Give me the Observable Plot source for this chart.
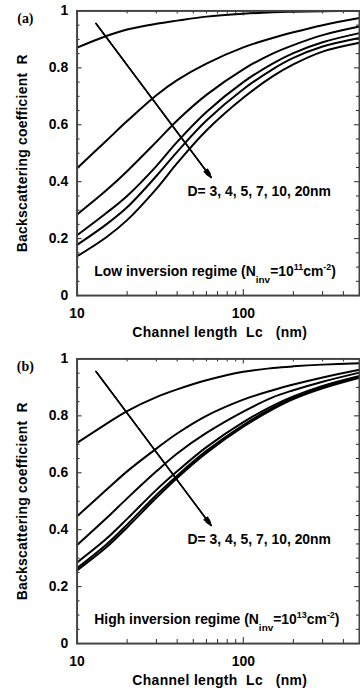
<!DOCTYPE html>
<html><head><meta charset="utf-8">
<script src="https://cdn.jsdelivr.net/npm/d3@7"></script>
<script src="https://cdn.jsdelivr.net/npm/@observablehq/plot@0.6"></script>
<style>
body{margin:0;background:#fff;overflow:hidden;width:360px;height:694px;}
#chart svg{display:block;}
</style></head><body><div id="chart"></div>
<script>
// Channel length Lc (nm) sample points
const lengths = [10, 15, 20, 30, 40, 60, 100, 150, 200, 300, 500];
const diameters = ["3", "4", "5", "7", "10", "20"];

// (a) Low inversion regime, backscattering coefficient R
const lowD3  = [0.871, 0.912, 0.935, 0.955, 0.966, 0.980, 0.990, 0.995, 0.997, 0.999, 1.000];
const lowD4  = [0.447, 0.544, 0.613, 0.704, 0.757, 0.815, 0.872, 0.905, 0.925, 0.950, 0.975];
const lowD5  = [0.285, 0.370, 0.437, 0.540, 0.615, 0.705, 0.795, 0.850, 0.880, 0.915, 0.945];
const lowD7  = [0.212, 0.290, 0.350, 0.455, 0.540, 0.645, 0.750, 0.815, 0.852, 0.890, 0.922];
const lowD10 = [0.178, 0.250, 0.310, 0.420, 0.505, 0.615, 0.725, 0.795, 0.835, 0.875, 0.905];
const lowD20 = [0.138, 0.205, 0.265, 0.375, 0.465, 0.580, 0.695, 0.770, 0.812, 0.857, 0.888];

// (b) High inversion regime
const highD3  = [0.705, 0.772, 0.817, 0.866, 0.893, 0.925, 0.955, 0.968, 0.974, 0.980, 0.985];
const highD4  = [0.447, 0.540, 0.605, 0.685, 0.738, 0.800, 0.857, 0.890, 0.910, 0.935, 0.962];
const highD5  = [0.346, 0.440, 0.510, 0.605, 0.668, 0.740, 0.815, 0.865, 0.890, 0.920, 0.952];
const highD7  = [0.285, 0.368, 0.438, 0.540, 0.605, 0.690, 0.778, 0.835, 0.868, 0.905, 0.940];
const highD10 = [0.265, 0.348, 0.418, 0.522, 0.590, 0.677, 0.768, 0.828, 0.863, 0.900, 0.937];
const highD20 = [0.257, 0.338, 0.408, 0.512, 0.582, 0.670, 0.762, 0.823, 0.859, 0.897, 0.934];

// Ticks
const yTickLabels = [0, 0.2, 0.4, 0.6, 0.8, 1];
const yMinorTicks = [0.05, 0.1, 0.15, 0.25, 0.3, 0.35, 0.45, 0.5, 0.55, 0.65, 0.7, 0.75, 0.85, 0.9, 0.95];
const xTicks = [20, 30, 40, 50, 60, 70, 80, 90, 200, 300, 400];
const xMajorTicks = [10, 100];
const xTickLabels = [10, 100];

const dLabel = "D= 3, 4, 5, 7, 10, 20nm";
const yTitle = "Backscattering coefficient  R";
const xTitle = "Channel length  Lc   (nm)";

function rows(series) {
  const out = [];
  series.forEach((vals, k) => vals.forEach((r, i) => out.push({D: diameters[k], L: lengths[i], R: r})));
  return out;
}

const W = 362, H = 350, mL = 77, mR = 1, mT = 10.5, mB = 53.3;
const fw = W - mL - mR, fh = H - mT - mB;

function panel(tag, series, regimeWord, exponent) {
  const regimeText = regimeWord + " inversion regime (N|inv|=10|" + exponent + "|cm|-2|)";
  const svg = Plot.plot({
    width: W, height: H,
    marginLeft: mL, marginRight: mR, marginTop: mT, marginBottom: mB,
    style: {fontFamily: "'Liberation Sans', Arial, sans-serif", fontSize: "14px", fontWeight: "bold", background: "#fff", color: "#000", overflow: "visible"},
    x: {type: "log", domain: [10, 500]},
    y: {domain: [0, 1]},
    marks: [
      Plot.line(rows(series), {x: "L", y: "R", z: "D", stroke: "#000", strokeWidth: 2, curve: "catmull-rom"}),
      // inward ticks
      Plot.tickX(xTicks, {x: d => d, insetTop: fh - 4, stroke: "#222"}),
      Plot.tickX(xTicks, {x: d => d, insetBottom: fh - 3, stroke: "#222"}),
      Plot.tickX(xMajorTicks, {x: d => d, insetTop: fh - 6, stroke: "#222"}),
      Plot.tickX(xMajorTicks, {x: d => d, insetBottom: fh - 5, stroke: "#222"}),
      Plot.tickY(yMinorTicks, {y: d => d, insetRight: fw - 3, stroke: "#222"}),
      Plot.tickY(yMinorTicks, {y: d => d, insetLeft: fw - 3, stroke: "#222"}),
      Plot.tickY(yTickLabels, {y: d => d, insetRight: fw - 5, stroke: "#222"}),
      Plot.tickY(yTickLabels, {y: d => d, insetLeft: fw - 5, stroke: "#222"}),
      Plot.frame({stroke: "#444", strokeWidth: 2}),
      Plot.axisY({ticks: yTickLabels, tickSize: 0, tickPadding: 9, tickFormat: d => String(+d.toFixed(1)), label: null}),
      Plot.axisX({ticks: xTickLabels, tickSize: 0, tickPadding: 13, tickFormat: d => String(d), label: null}),
      Plot.text([xTitle], {text: d => d, frameAnchor: "bottom", dx: 1.5, dy: 37.3, lineAnchor: "middle", textAnchor: "middle"}),
      Plot.text([yTitle], {text: d => d, frameAnchor: "left", rotate: -90, dx: -55, dy: 0, lineAnchor: "middle", textAnchor: "middle"}),
      Plot.text([tag], {text: d => d, frameAnchor: "top-left", dx: -52, dy: 7.5, lineAnchor: "middle", textAnchor: "middle", fontFamily: "'Liberation Serif', 'Times New Roman', serif", fontSize: 14}),
      // arrow (filled-looking head)
      Plot.arrow([0], {x1: 13, y1: 0.956, x2: 64, y2: 0.415, stroke: "#000", strokeWidth: 1, headLength: 9, headAngle: 44}),
      Plot.arrow([0], {x1: 13, y1: 0.956, x2: 64, y2: 0.415, stroke: "#000", strokeWidth: 1.5, headLength: 9, headAngle: 28}),
      Plot.arrow([0], {x1: 13, y1: 0.956, x2: 64, y2: 0.415, stroke: "#000", strokeWidth: 1.5, headLength: 9, headAngle: 12}),
      Plot.text([dLabel], {text: d => d, x: 46.2, y: 0.367, textAnchor: "start", lineAnchor: "middle"}),
      Plot.text([regimeText], {text: d => d, x: 12.69, y: 0.085, textAnchor: "start", lineAnchor: "middle"})
    ]
  });
  // format sub/superscripts of the regime label
  d3.select(svg).selectAll("text").each(function() {
    const t = this.textContent;
    if (t === regimeText) {
      const p = t.split("|");
      const sel = d3.select(this);
      sel.text(null);
      sel.append("tspan").text(p[0]);
      sel.append("tspan").attr("dy", 7).attr("font-size", 10).text(p[1]);
      sel.append("tspan").attr("dy", -7).text(p[2]);
      sel.append("tspan").attr("dy", -6).attr("font-size", 9).text(p[3]);
      sel.append("tspan").attr("dy", 6).text(p[4]);
      sel.append("tspan").attr("dy", -6).attr("font-size", 9).text(p[5]);
      sel.append("tspan").attr("dy", 6).text(p[6]);
    }
    if (t === xTitle) d3.select(this).style("white-space", "pre").style("letter-spacing", "0.35px");
    if (t === yTitle) d3.select(this).style("white-space", "pre").style("letter-spacing", "0.25px");
  });
  return svg;
}

const chart = document.getElementById("chart");
chart.appendChild(panel("(a)", [lowD3, lowD4, lowD5, lowD7, lowD10, lowD20], "Low", "11"));
chart.appendChild(panel("(b)", [highD3, highD4, highD5, highD7, highD10, highD20], "High", "13"));
</script></body></html>
